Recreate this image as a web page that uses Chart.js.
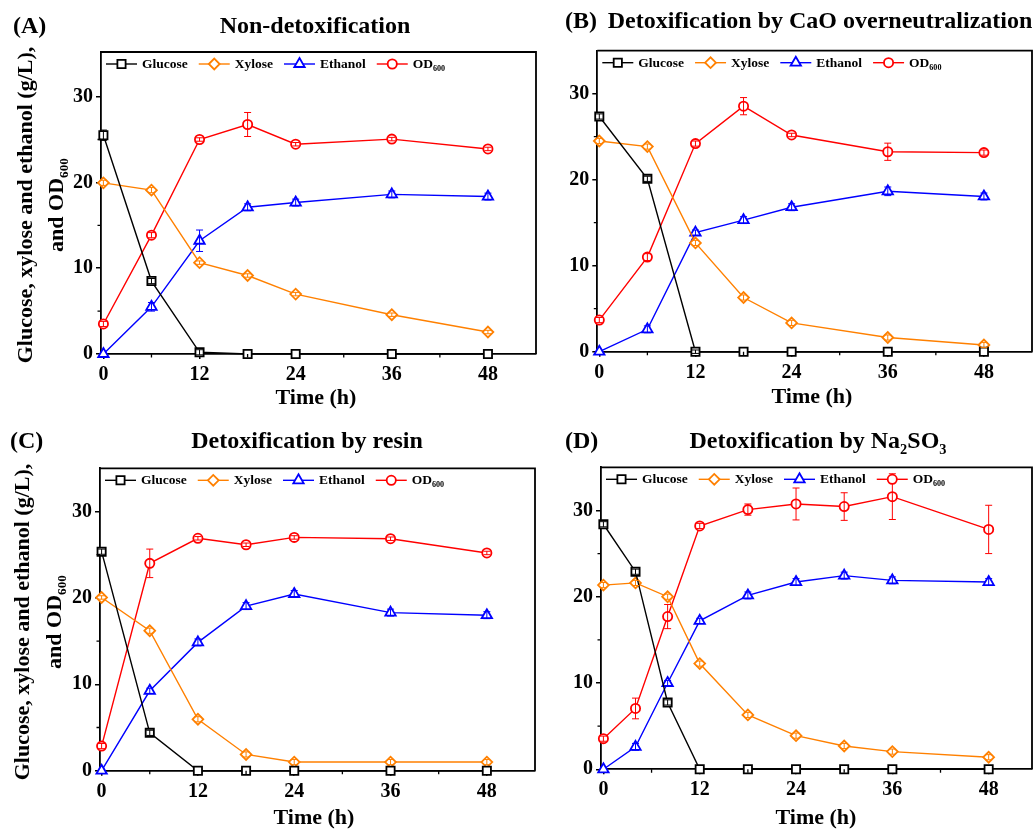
<!DOCTYPE html>
<html><head><meta charset="utf-8">
<script src="https://cdn.jsdelivr.net/npm/chart.js@4.4.0/dist/chart.umd.min.js"></script>
<style>
html,body{margin:0;padding:0;background:#fff;}
body{width:1033px;height:829px;position:relative;overflow:hidden;}
canvas{position:absolute;}
</style></head><body>
<canvas id="cA" width="545" height="415" style="left:0px;top:0px"></canvas>
<canvas id="cB" width="530" height="415" style="left:515px;top:0px"></canvas>
<canvas id="cC" width="545" height="414" style="left:0px;top:415px"></canvas>
<canvas id="cD" width="530" height="414" style="left:515px;top:415px"></canvas>
<script>
// ---------------- DATA ----------------
const timeABC = [0, 6, 12, 18, 24, 36, 48];
const timeD = [0, 4, 8, 12, 18, 24, 30, 36, 48];
const xTickValues = [0, 12, 24, 36, 48];
const xMinorValues = [6, 18, 30, 42];
const yTickValues = [0, 10, 20, 30];
const yMinorValues = [5, 15, 25];
const seriesNames = ['Glucose', 'Xylose', 'Ethanol', 'OD'];
const odSubscript = '600';

// (A) Non-detoxification
const glucoseA = [25.5, 8.5, 0.2, 0, 0, 0, 0];
const xyloseA = [19.95, 19.1, 10.65, 9.15, 6.98, 4.58, 2.56];
const ethanolA = [0, 5.5, 13.2, 17.1, 17.65, 18.6, 18.35];
const odA = [3.5, 13.85, 25.0, 26.75, 24.45, 25.05, 23.9];
const glucoseErrA = [0.6, 0.3, 0.3, 0, 0, 0, 0];
const xyloseErrA = [0.3, 0.3, 0.2, 0.2, 0.2, 0.2, 0.2];
const ethanolErrA = [0, 0.5, 1.25, 0.4, 0.4, 0.4, 0.4];
const odErrA = [0.3, 0.3, 0.2, 1.4, 0.2, 0.2, 0.2];

// (B) CaO overneutralization
const glucoseB = [27.35, 20.1, 0, 0, 0, 0, 0];
const xyloseB = [24.5, 23.85, 12.65, 6.3, 3.35, 1.65, 0.78];
const ethanolB = [0, 2.6, 13.85, 15.3, 16.8, 18.65, 18.05];
const odB = [3.68, 11.0, 24.2, 28.55, 25.2, 23.25, 23.15];
const glucoseErrB = [0.3, 0.3, 0.2, 0, 0, 0, 0];
const xyloseErrB = [0.3, 0.3, 0.3, 0.3, 0.3, 0.3, 0.3];
const ethanolErrB = [0, 0.4, 0.3, 0.4, 0.4, 0.5, 0.4];
const odErrB = [0.3, 0.4, 0.3, 1.0, 0.2, 1.0, 0.3];

// (C) resin
const glucoseC = [25.35, 4.38, 0, 0, 0, 0, 0];
const xyloseC = [20.05, 16.2, 5.95, 1.88, 1.0, 1.0, 1.0];
const ethanolC = [0, 9.25, 14.85, 19.05, 20.45, 18.3, 18.0];
const odC = [2.85, 24.0, 26.9, 26.15, 27.0, 26.85, 25.2];
const glucoseErrC = [0.3, 0.3, 0, 0, 0, 0, 0];
const xyloseErrC = [0.2, 0.3, 0.3, 0.3, 0.3, 0.3, 0.3];
const ethanolErrC = [0, 0.3, 0.4, 0.4, 0.4, 0.4, 0.4];
const odErrC = [0.3, 1.65, 0.2, 0.2, 0.2, 0.2, 0.2];

// (D) Na2SO3
const glucoseD = [28.4, 22.9, 7.75, 0, 0, 0, 0, 0, 0];
const xyloseD = [21.35, 21.6, 20.0, 12.25, 6.3, 3.9, 2.7, 2.05, 1.4];
const ethanolD = [0, 2.6, 10.0, 17.2, 20.15, 21.7, 22.45, 21.9, 21.7];
const odD = [3.55, 7.05, 17.7, 28.2, 30.1, 30.75, 30.45, 31.6, 27.8];
const glucoseErrD = [0.3, 0.3, 0.3, 0, 0, 0, 0, 0, 0];
const xyloseErrD = [0.3, 0.3, 0.3, 0.3, 0.3, 0.3, 0.3, 0.3, 0.3];
const ethanolErrD = [0, 0.4, 0.3, 0.3, 0.4, 0.4, 0.4, 0.4, 0.4];
const odErrD = [0.3, 1.2, 1.4, 0.3, 0.65, 1.85, 1.6, 2.65, 2.8];

// ---------------- STYLE / LAYOUT ----------------
const FONT = "'Liberation Serif','Times New Roman',serif";
const COLORS = ['#000000', '#FF8000', '#0000FF', '#FF0000'];
const STYLES = ['rect', 'rectRot', 'triangle', 'circle'];
const RADII = [5.8, 5.4, 6, 4.6];

function pts(xs, ys) { return xs.map((x, i) => ({ x: x, y: ys[i] })); }
function makeDataset(k, xs, ys, err) {
  return {
    label: seriesNames[k], data: pts(xs, ys), errorBars: err,
    borderColor: COLORS[k], backgroundColor: '#ffffff',
    pointBorderColor: COLORS[k], pointBackgroundColor: '#ffffff',
    pointStyle: STYLES[k], pointRadius: RADII[k], pointHoverRadius: RADII[k],
    pointBorderWidth: 1.8, borderWidth: 1.4, tension: 0, clip: false
  };
}

function segW(ctx, segs, size) {
  let w = 0;
  for (const s of segs) { ctx.font = 'bold ' + (s.sub ? size * 0.6 : size) + 'px ' + FONT; w += ctx.measureText(s.t).width; }
  return w;
}
function drawRich(ctx, segs, x, y, size, align) {
  const w = segW(ctx, segs, size);
  let cx = align === 'center' ? x - w / 2 : x;
  ctx.textAlign = 'left'; ctx.textBaseline = 'middle'; ctx.fillStyle = '#000';
  for (const s of segs) {
    const fs = s.sub ? size * 0.6 : size;
    ctx.font = 'bold ' + fs + 'px ' + FONT;
    ctx.fillText(s.t, cx, s.sub ? y + size * 0.33 : y);
    cx += ctx.measureText(s.t).width;
  }
  return cx;
}
function marker(ctx, style, r, x, y, color) {
  ctx.save();
  ctx.fillStyle = '#fff'; ctx.strokeStyle = color; ctx.lineWidth = 1.8;
  if (Chart.helpers && Chart.helpers.drawPoint) {
    Chart.helpers.drawPoint(ctx, { pointStyle: style, radius: r, borderWidth: 1.8, rotation: 0 }, x, y);
  }
  ctx.restore();
}

const decor = {
  id: 'decor',
  afterDatasetsDraw(chart) {
    const ctx = chart.ctx, ys = chart.scales.y;
    chart.data.datasets.forEach((d, i) => {
      const meta = chart.getDatasetMeta(i);
      if (!d.errorBars) return;
      ctx.save();
      ctx.strokeStyle = d.borderColor; ctx.lineWidth = 1;
      meta.data.forEach((el, j) => {
        const e = d.errorBars[j];
        if (!e) return;
        const v = d.data[j].y;
        const y1 = ys.getPixelForValue(v + e), y2 = ys.getPixelForValue(v - e);
        ctx.beginPath();
        ctx.moveTo(el.x, y1); ctx.lineTo(el.x, y2);
        ctx.moveTo(el.x - 3.5, y1); ctx.lineTo(el.x + 3.5, y1);
        ctx.moveTo(el.x - 3.5, y2); ctx.lineTo(el.x + 3.5, y2);
        ctx.stroke();
      });
      ctx.restore();
    });
  },
  afterDraw(chart, args, o) {
    const ctx = chart.ctx, a = chart.chartArea, xs = chart.scales.x, ys = chart.scales.y;
    const ox = o.ox, oy = o.oy;
    ctx.save();
    // top and right frame
    ctx.strokeStyle = '#000'; ctx.lineWidth = 1.8;
    ctx.beginPath();
    ctx.moveTo(a.left, a.top); ctx.lineTo(a.right, a.top); ctx.lineTo(a.right, a.bottom);
    ctx.stroke();
    // minor ticks
    ctx.lineWidth = 1.3;
    ctx.beginPath();
    xMinorValues.forEach(v => { const px = xs.getPixelForValue(v); if (px < a.right) { ctx.moveTo(px, a.bottom); ctx.lineTo(px, a.bottom + 3.5); } });
    yMinorValues.forEach(v => { const py = ys.getPixelForValue(v); ctx.moveTo(a.left, py); ctx.lineTo(a.left - 3.5, py); });
    ctx.stroke();
    // legend
    let lx = a.left + 5; const ly = a.top + 12;
    chart.data.datasets.forEach((d, k) => {
      ctx.strokeStyle = d.borderColor; ctx.lineWidth = 1.4;
      ctx.beginPath(); ctx.moveTo(lx, ly); ctx.lineTo(lx + 31, ly); ctx.stroke();
      marker(ctx, d.pointStyle, d.pointRadius, lx + 15.5, ly, d.borderColor);
      const segs = k === 3 ? [{ t: d.label }, { t: odSubscript, sub: true }] : [{ t: d.label }];
      const end = drawRich(ctx, segs, lx + 36, ly + 0.5, 13.5, 'left');
      lx = end + 11;
    });
    // panel letter + title
    drawRich(ctx, [{ t: o.letter }], o.letterX - ox, o.letterY - oy, 24, 'left');
    drawRich(ctx, o.title, o.titleX - ox, o.titleY - oy, 24, 'center');
    // x axis title
    drawRich(ctx, [{ t: 'Time (h)' }], o.xtX - ox, o.xtY - oy, 22, 'center');
    // y axis title
    if (o.yt) {
      ctx.save();
      ctx.translate(o.yt.x1 - ox, o.yt.cy - oy);
      ctx.rotate(-Math.PI / 2);
      drawRich(ctx, [{ t: 'Glucose, xylose and ethanol (g/L),' }], 0, 0, 22, 'center');
      ctx.restore();
      ctx.save();
      ctx.translate(o.yt.x2 - ox, o.yt.cy - oy);
      ctx.rotate(-Math.PI / 2);
      drawRich(ctx, [{ t: 'and OD' }, { t: odSubscript, sub: true }], 0, 0, 22, 'center');
      ctx.restore();
    }
    ctx.restore();
  }
};

function build(id, p, times, g, x, e, od, ge, xe, ee, oe) {
  const tickFont = { family: FONT, size: 20, weight: 'bold' };
  new Chart(document.getElementById(id), {
    type: 'line',
    data: { datasets: [makeDataset(0, times, g, ge), makeDataset(1, times, x, xe), makeDataset(2, times, e, ee), makeDataset(3, times, od, oe)] },
    options: {
      responsive: false, animation: false,
      layout: { padding: { left: 0, bottom: 0, top: p.area.t - p.oy, right: p.w - (p.area.r - p.ox) } },
      plugins: { legend: { display: false }, tooltip: { enabled: false }, title: { display: false },
        decor: { ox: p.ox, oy: p.oy, letter: p.letter, letterX: p.letterX, letterY: p.letterY, title: p.title, titleX: p.titleX, titleY: p.titleY, xtX: p.xtX, xtY: p.xtY, yt: p.yt } },
      scales: {
        x: {
          type: 'linear', position: 'bottom', min: p.xMin, max: p.xMax,
          afterBuildTicks: s => { s.ticks = xTickValues.map(v => ({ value: v })); },
          afterFit: s => { s.height = p.oy + p.h - p.area.b; },
          grid: { display: true, drawOnChartArea: false, drawTicks: true, tickLength: 5, color: '#000', lineWidth: 1.5 },
          border: { display: true, color: '#000', width: 1.8 },
          ticks: { font: tickFont, color: '#000', padding: 4, maxRotation: 0, autoSkip: false }
        },
        y: {
          type: 'linear', position: 'left', min: 0, max: p.yMax,
          afterBuildTicks: s => { s.ticks = yTickValues.map(v => ({ value: v })); },
          afterFit: s => { s.width = p.area.l - p.ox; },
          grid: { display: true, drawOnChartArea: false, drawTicks: true, tickLength: 5, color: '#000', lineWidth: 1.5 },
          border: { display: true, color: '#000', width: 1.8 },
          ticks: { font: tickFont, color: '#000', padding: 3, autoSkip: false }
        }
      }
    },
    plugins: [decor]
  });
}

build('cA', { ox: 0, oy: 0, w: 545, h: 415, area: { l: 101, t: 52, r: 536, b: 354 }, xMin: -0.3, xMax: 54, yMax: 35.2,
  letter: '(A)', letterX: 13, letterY: 27, title: [{ t: 'Non-detoxification' }], titleX: 315, titleY: 27,
  xtX: 316, xtY: 398, yt: { x1: 26, x2: 57, cy: 205 } },
  timeABC, glucoseA, xyloseA, ethanolA, odA, glucoseErrA, xyloseErrA, ethanolErrA, odErrA);

build('cB', { ox: 515, oy: 0, w: 530, h: 415, area: { l: 597.3, t: 50.7, r: 1032, b: 351.7 }, xMin: -0.25, xMax: 54, yMax: 35,
  letter: '(B)', letterX: 565, letterY: 22, title: [{ t: 'Detoxification by CaO overneutralization' }], titleX: 820, titleY: 22,
  xtX: 812, xtY: 397, yt: null },
  timeABC, glucoseB, xyloseB, ethanolB, odB, glucoseErrB, xyloseErrB, ethanolErrB, odErrB);

build('cC', { ox: 0, oy: 415, w: 545, h: 414, area: { l: 100, t: 468.3, r: 535, b: 770.7 }, xMin: -0.2, xMax: 54, yMax: 35,
  letter: '(C)', letterX: 10, letterY: 442, title: [{ t: 'Detoxification by resin' }], titleX: 307, titleY: 442,
  xtX: 314, xtY: 818, yt: { x1: 23, x2: 55, cy: 622 } },
  timeABC, glucoseC, xyloseC, ethanolC, odC, glucoseErrC, xyloseErrC, ethanolErrC, odErrC);

build('cD', { ox: 515, oy: 415, w: 530, h: 414, area: { l: 601, t: 467.3, r: 1032, b: 769.3 }, xMin: -0.3, xMax: 53.4, yMax: 35,
  letter: '(D)', letterX: 565, letterY: 442, title: [{ t: 'Detoxification by Na' }, { t: '2', sub: true }, { t: 'SO' }, { t: '3', sub: true }], titleX: 818, titleY: 442,
  xtX: 816, xtY: 818, yt: null },
  timeD, glucoseD, xyloseD, ethanolD, odD, glucoseErrD, xyloseErrD, ethanolErrD, odErrD);
</script>
</body></html>
